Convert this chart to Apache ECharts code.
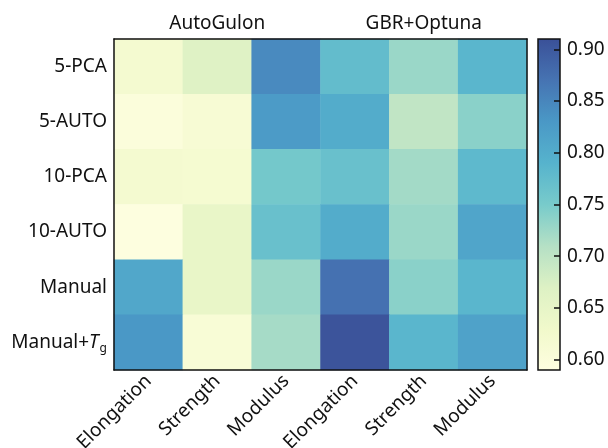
<!DOCTYPE html>
<html>
<head>
<meta charset="utf-8">
<script src="https://cdn.jsdelivr.net/npm/echarts@6/dist/echarts.min.js"></script>
<style>
  html, body { margin: 0; padding: 0; background: #fff; }
  #chart { width: 608px; height: 448px; }
</style>
</head>
<body>
<div id="chart"></div>
<script>
const rowLabels = ['5-PCA', '5-AUTO', '10-PCA', '10-AUTO', 'Manual', 'Manual+Tg'];
const colLabels = ['Elongation', 'Strength', 'Modulus', 'Elongation', 'Strength', 'Modulus'];
const groupLabels = ['AutoGulon', 'GBR+Optuna'];

// one row per feature set, columns as in colLabels
const scores = [
  [0.620, 0.665, 0.845, 0.775, 0.728, 0.785],
  [0.600, 0.612, 0.825, 0.800, 0.698, 0.738],
  [0.620, 0.618, 0.755, 0.768, 0.722, 0.780],
  [0.592, 0.645, 0.768, 0.800, 0.728, 0.810],
  [0.808, 0.645, 0.728, 0.872, 0.738, 0.785],
  [0.830, 0.610, 0.720, 0.905, 0.785, 0.815]
];

const scaleMin = 0.59;
const scaleMax = 0.91;
const cbTicks = [0.60, 0.65, 0.70, 0.75, 0.80, 0.85, 0.90];
const ramp = ['#fefee0', '#f1f9cb', '#ddf1c4', '#b5e0c5', '#78cbcb',
              '#56b3cd', '#4a98c6', '#4673b2', '#3a5098'];

const chart = echarts.init(document.getElementById('chart'));

const cells = [];
scores.forEach((row, r) => row.forEach((v, c) => cells.push([c, r, v])));

const font = 'Noto Sans';
const ink = '#111';

chart.setOption({
  animation: false,
  textStyle: { fontFamily: font, color: ink },
  grid: [
    { left: 114, top: 39, width: 413, height: 331, outerBoundsMode: 'none', containLabel: false },
    { left: 538, top: 39, width: 22, height: 331, outerBoundsMode: 'none', containLabel: false }
  ],
  visualMap: {
    show: false,
    seriesIndex: 0,
    min: scaleMin,
    max: scaleMax,
    inRange: { color: ramp }
  },
  xAxis: [
    {
      type: 'category', gridIndex: 0, data: colLabels, z: 10,
      axisLine: { lineStyle: { color: ink, width: 1.5 } },
      axisTick: { inside: true, alignWithLabel: true, length: 6, lineStyle: { color: ink, width: 1.5 } },
      axisLabel: { rotate: 45, fontSize: 19, color: ink, margin: 8, fontFamily: font }
    },
    {
      type: 'category', gridIndex: 0, position: 'top', data: groupLabels, z: 10,
      axisLine: { lineStyle: { color: ink, width: 1.5 } },
      axisTick: { show: false },
      axisLabel: { fontSize: 19, color: ink, margin: 6, fontFamily: font }
    },
    { type: 'category', gridIndex: 1, data: [''], show: false }
  ],
  yAxis: [
    {
      type: 'category', gridIndex: 0, data: rowLabels, inverse: true, z: 10,
      axisLine: { lineStyle: { color: ink, width: 1.5 } },
      axisTick: { inside: true, alignWithLabel: true, length: 6, lineStyle: { color: ink, width: 1.5 } },
      axisLabel: {
        fontSize: 19, color: ink, margin: 7, fontFamily: font,
        formatter: v => v === 'Manual+Tg' ? 'Manual+{i|T}{s|g}' : v,
        rich: {
          i: { fontSize: 19, fontStyle: 'italic', color: ink, fontFamily: font },
          s: { fontSize: 12, color: ink, fontFamily: font, verticalAlign: 'bottom', padding: [12, 0, 0, 1] }
        }
      }
    },
    {
      type: 'category', gridIndex: 0, position: 'right', data: rowLabels, inverse: true, z: 10,
      axisLine: { lineStyle: { color: ink, width: 1.5 } },
      axisTick: { show: false },
      axisLabel: { show: false }
    },
    {
      type: 'value', gridIndex: 1, position: 'right', min: scaleMin, max: scaleMax, z: 10,
      splitLine: { show: false },
      axisLine: { show: false },
      axisTick: { show: true, inside: true, length: 6, customValues: cbTicks, lineStyle: { color: ink, width: 1.5 } },
      axisLabel: {
        fontSize: 19, color: ink, margin: 7, fontFamily: font,
        customValues: cbTicks,
        formatter: v => v.toFixed(2)
      }
    }
  ],
  series: [
    {
      type: 'heatmap',
      xAxisIndex: 0,
      yAxisIndex: 0,
      data: cells
    },
    {
      type: 'custom',
      xAxisIndex: 2,
      yAxisIndex: 2,
      data: [[0, scaleMin, scaleMax]],
      renderItem: (params, api) => {
        const cs = params.coordSys;
        const lo = api.coord([0, api.value(1)]);
        const hi = api.coord([0, api.value(2)]);
        return {
          type: 'rect',
          shape: { x: cs.x, y: hi[1], width: cs.width, height: lo[1] - hi[1] },
          style: {
            fill: new echarts.graphic.LinearGradient(0, 1, 0, 0,
              ramp.map((c, i) => ({ offset: i / (ramp.length - 1), color: c }))),
            stroke: ink,
            lineWidth: 1.5
          }
        };
      }
    }
  ]
});
</script>
</body>
</html>
